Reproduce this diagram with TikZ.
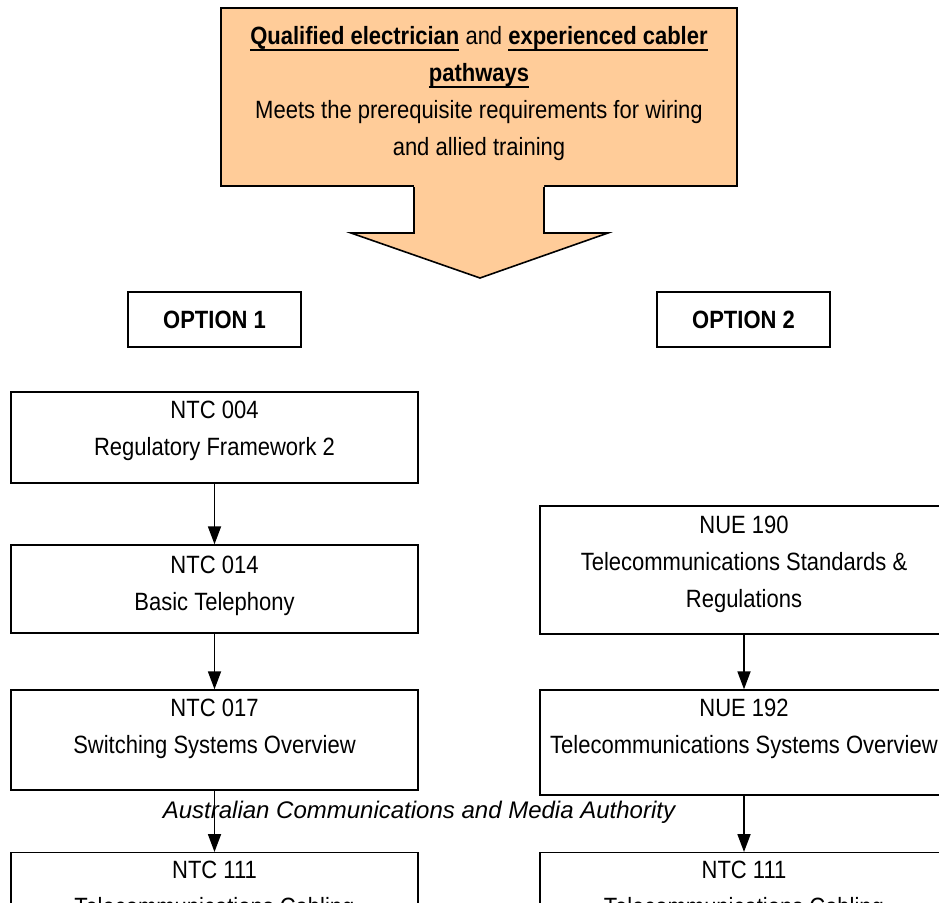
\documentclass[tikz,border=0pt]{standalone}
\usepackage{fontspec}
\setmainfont{Liberation Sans}[FakeStretch=0.88]
\newfontfamily\footfont{Liberation Sans}
\usetikzlibrary{arrows.meta}
\definecolor{peach}{HTML}{FFCC99}
% bold text with a heavy underline
\newcommand\thickul[1]{\leavevmode\setbox0\hbox{\textbf{#1}}%
  \rlap{\vrule width\wd0 height -3.6pt depth 5.6pt}\box0\relax}
\begin{document}
\begin{tikzpicture}[x=1pt,y=-1pt,
  body/.style={font=\fontsize{25}{37}\selectfont, align=center, inner sep=0pt},
  course/.style={draw, line width=1.4pt, inner sep=0pt},
  leftcol/.style={course, minimum width=407pt},
  rightcol/.style={course, minimum width=408pt},
  optbox/.style={draw, line width=1.4pt, inner sep=0pt, minimum width=173pt,
                 minimum height=55pt, font=\fontsize{25}{30}\selectfont\bfseries},
  flow/.style={line width=1.8pt, -{Triangle[width=13pt,length=18pt]}}]
\useasboundingbox (0,0) rectangle (939,902);
\clip (0,0) rectangle (939,902);

% entry requirements box with the big arrow below it
\node[draw, line width=2pt, fill=peach, minimum width=516pt, minimum height=178pt,
      inner sep=0pt] (entry) at (479,97) {};
\node[body] (entrytext) at ([yshift=3pt]entry.center)
  {\thickul{Qualified electrician} and \thickul{experienced cabler}\\
   \thickul{pathways}\\
   Meets the prerequisite requirements for wiring\\
   and allied training};
\fill[peach] ([xshift=-65pt,yshift=2pt]entry.south) -- ++(0,48) -- ++(-63,0) -- ++(129,45)
  -- ++(128,-45) -- ++(-64,0) -- ++(0,-48) -- cycle;
\draw[line width=1.6pt, line join=miter] ([xshift=-65pt]entry.south) -- ++(0,46) -- ++(-63,0)
  -- ++(129,45) -- ++(128,-45) -- ++(-64,0) -- ++(0,-46);

% option headings
\node[optbox] (opt1) at (214.5,319.5) {OPTION 1};
\node[optbox] (opt2) at (743.5,319.5) {OPTION 2};

% option 1 column
\node[leftcol, minimum height=91pt] (n004) at (214.5,437.5) {};
\node[body] (n004t) at ([yshift=7pt]n004.center) {NTC 004\\Regulatory Framework 2};
\node[leftcol, minimum height=88pt] (n014) at (214.5,589) {};
\node[body] (n014t) at ([yshift=3pt]n014.center) {NTC 014\\Basic Telephony};
\node[leftcol, minimum height=100pt] (n017) at (214.5,740) {};
\node[body] (n017t) at ([yshift=11.5pt]n017.center) {NTC 017\\Switching Systems Overview};
\node[leftcol, minimum height=110pt, anchor=north] (n111a) at (214.5,852) {};
\node[body, anchor=north] (n111at) at ([yshift=-9pt]n111a.north) {NTC 111\\Telecommunications Cabling};

% option 2 column
\node[rightcol, minimum height=128pt] (n190) at (744,570) {};
\node[body] (n190t) at ([yshift=6pt]n190.center) {NUE 190\\Telecommunications Standards \&\\Regulations};
\node[rightcol, minimum height=105pt] (n192) at (744,742.5) {};
\node[body] (n192t) at ([yshift=14pt]n192.center) {NUE 192\\Telecommunications Systems Overview};
\node[rightcol, minimum height=110pt, anchor=north] (n111b) at (744,852) {};
\node[body, anchor=north] (n111bt) at ([yshift=-9pt]n111b.north) {NTC 111\\Telecommunications Cabling};

% flow arrows
\draw[flow] (n004) -- (n014);
\draw[flow] (n014) -- (n017);
\draw[flow] (n017) -- (n111a);
\draw[flow] (n190) -- (n192);
\draw[flow] (n192) -- (n111b);

% running footer
\node[font=\fontsize{24}{30}\footfont\itshape, inner sep=0pt] (footer) at (419,812)
  {Australian Communications and Media Authority};
\end{tikzpicture}
\end{document}
